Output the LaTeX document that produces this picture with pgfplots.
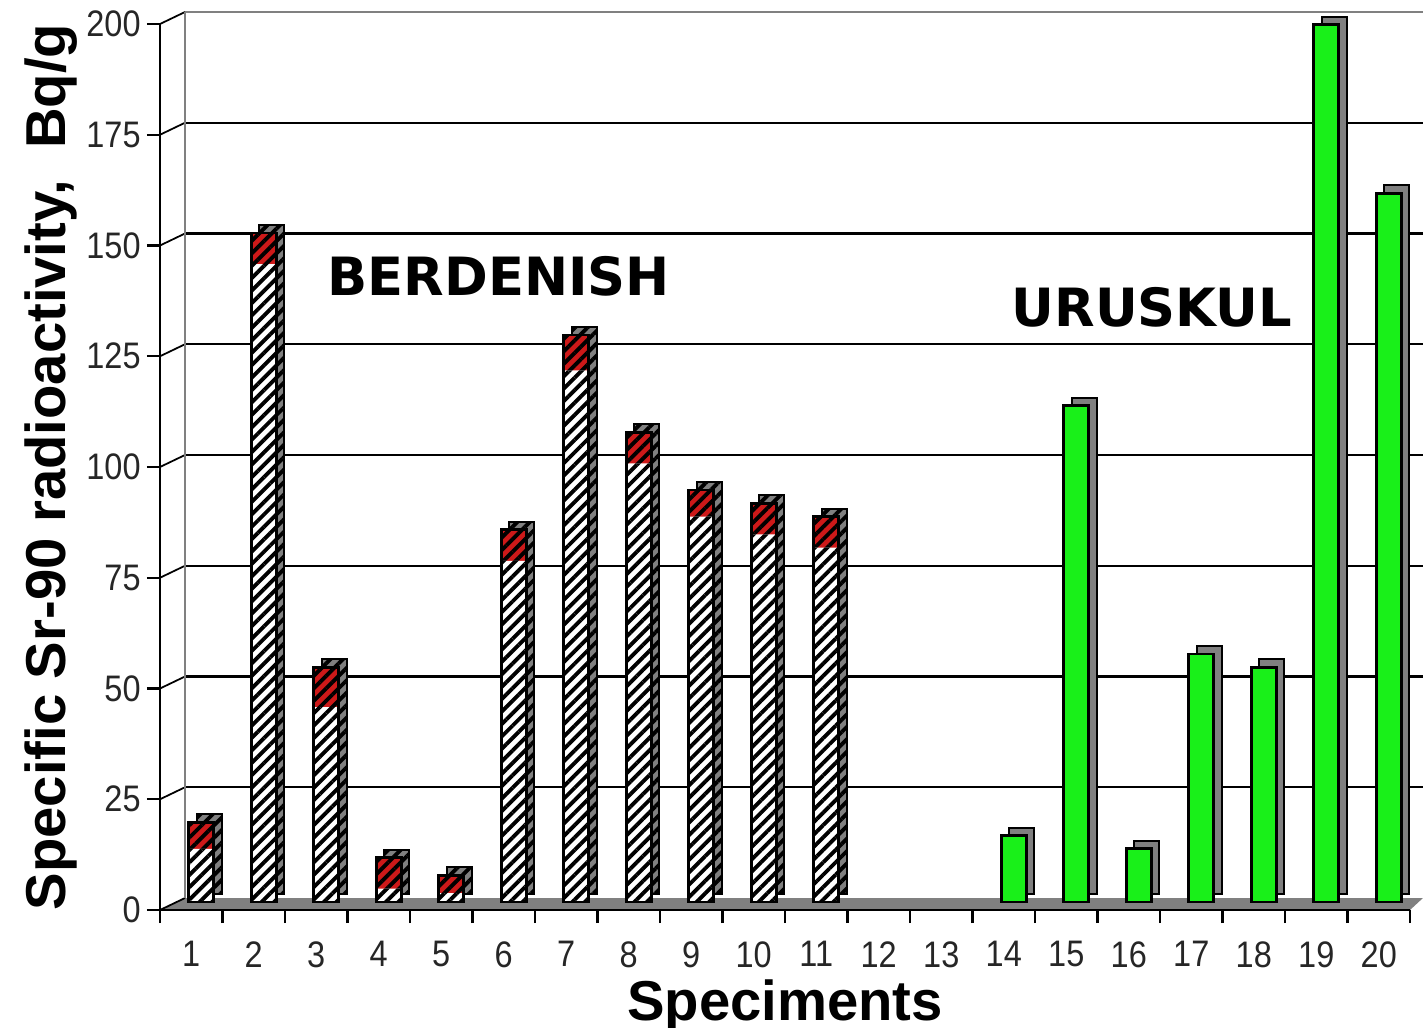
\documentclass[border=0pt]{standalone}
\usepackage{fontspec}
\setmainfont{Liberation Sans}
\newfontfamily\heavy{DejaVu Sans}
\newfontfamily\tickfont[FakeStretch=0.88]{Liberation Sans}
\usepackage{pgfplots}
\usepackage{pgfplotstable}
\pgfplotsset{compat=1.18}
\usetikzlibrary{patterns.meta}
\definecolor{bargreen}{RGB}{25,240,25}
\definecolor{barred}{RGB}{205,25,25}
\definecolor{floorgray}{RGB}{128,128,128}
\tikzset{hatch/.style={postaction={pattern={Lines[angle=45,distance=2.5pt,line width=1.1pt]},pattern color=black}}}

\pgfplotstableread{
x total hatched
1 18 12
2 151 144
3 53 44
4 10 3
5 6 2
6 84 77
7 128 120
8 106 99
9 93 87
10 90 83
11 87 80
}\berd
\pgfplotstableread{
x val
14 15
15 112
16 12
17 56
18 53
19 198
20 160
}\urus

\begin{document}
\begin{tikzpicture}
\begin{axis}[
  name=ax,
  set layers,
  scale only axis, width=12.5cm, height=8.86cm,
  xmin=0.5, xmax=20.5, ymin=0, ymax=200,
  axis x line*=bottom, axis y line*=left,
  ybar, bar width=0.25cm,
  xtick={1,...,20},
  major x tick style={draw=none},
  minor xtick={0.5,1.5,...,20.5},
  ytick={0,25,...,200},
  tick align=outside,
  major tick length=0.13cm, minor tick length=0.13cm,
  tick style={black, line width=0.6pt},
  ticklabel style={font=\tickfont\fontsize{10.5}{11}\selectfont, text=black!85},
  yticklabel style={xshift=0.06cm},
  xticklabel style={yshift=-0.06cm},
  xlabel={Speciments}, ylabel={Specific Sr-90 radioactivity,\ \ Bq/g},
  label style={font=\fontsize{16}{16}\selectfont\bfseries},
  xlabel shift=-0.12cm, ylabel shift=-0.15cm,
  clip=false,
  axis line style={black, line width=0.8pt},
  /pgf/number format/assume math mode=true,
]
\begin{pgfonlayer}{axis background}
\fill[floorgray] (axis cs:0.5,0) -- (axis cs:20.5,0) -- ([shift={(0.13cm,0.12cm)}]axis cs:20.5,0) -- ([shift={(0.25cm,0.12cm)}]axis cs:0.5,0) -- cycle;
\pgfplotsinvokeforeach{25,50,75,100,125,150,175}{
  \draw[black, line width=0.6pt] ([shift={(0.25cm,0.12cm)}]axis cs:0.5,#1) -- ([shift={(0.13cm,0.12cm)}]axis cs:20.5,#1);
}
\draw[gray, line width=0.6pt] ([shift={(0.25cm,0.12cm)}]axis cs:0.5,200) -- ([shift={(0.13cm,0.12cm)}]axis cs:20.5,200);
\pgfplotsinvokeforeach{0,25,50,75,100,125,150,175,200}{
  \draw[black, line width=0.5pt] (axis cs:0.5,#1) -- ([shift={(0.25cm,0.12cm)}]axis cs:0.5,#1);
}
\draw[gray, line width=0.6pt] ([shift={(0.25cm,0.12cm)}]axis cs:0.5,0) -- ([shift={(0.25cm,0.12cm)}]axis cs:0.5,200);
\end{pgfonlayer}

% side/top faces
\addplot[bar shift=0pt, xshift=0.18cm, yshift=0.16cm, fill=floorgray, draw=black, line width=0.6pt, hatch] table[x=x,y=total]{\berd};
\addplot[bar shift=0pt, xshift=0.18cm, yshift=0.16cm, fill=floorgray, draw=black, line width=0.6pt] table[x=x,y=val]{\urus};
% front faces
\addplot[bar shift=0pt, xshift=0.1cm, yshift=0.08cm, fill=barred, draw=none, hatch] table[x=x,y=total]{\berd};
\addplot[bar shift=0pt, xshift=0.1cm, yshift=0.08cm, fill=white, draw=none, hatch] table[x=x,y=hatched]{\berd};
\addplot[bar shift=0pt, xshift=0.1cm, yshift=0.08cm, fill=none, draw=black, line width=0.8pt] table[x=x,y=total]{\berd};
\addplot[bar shift=0pt, xshift=0.1cm, yshift=0.08cm, fill=bargreen, draw=black, line width=0.8pt] table[x=x,y=val]{\urus};

\node[font=\heavy\bfseries\fontsize{15}{15}\selectfont] at (axis cs:5.92,143) {BERDENISH};
\node[font=\heavy\bfseries\fontsize{15}{15}\selectfont] at (axis cs:16.37,136) {URUSKUL};
\end{axis}
\pgfresetboundingbox
\useasboundingbox ([shift={(-1.6cm,-1.17cm)}]ax.south west) rectangle ([shift={(0.13cm,0.24cm)}]ax.north east);
\end{tikzpicture}
\end{document}
